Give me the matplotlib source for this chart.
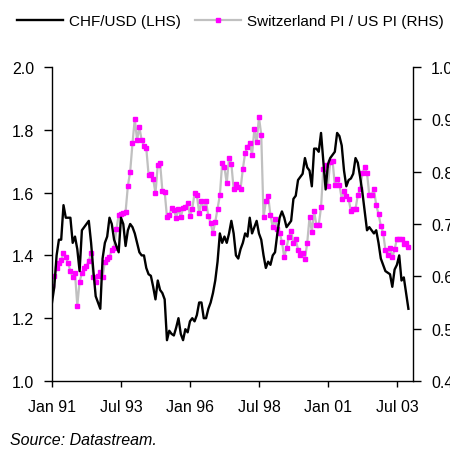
import matplotlib
matplotlib.use("Agg")
import matplotlib.pyplot as plt
import numpy as np

plt.rcParams['font.family'] = ['Liberation Sans', 'DejaVu Sans']

# Monthly data, Jan 1991 - Dec 2003
chf_usd = [
    1.25, 1.30, 1.40, 1.45, 1.45, 1.56, 1.52, 1.52, 1.52, 1.44,
    1.46, 1.42, 1.35, 1.48, 1.49, 1.50, 1.51, 1.44, 1.35, 1.27,
    1.25, 1.23, 1.39, 1.44, 1.46, 1.52, 1.50, 1.45, 1.43, 1.41,
    1.52, 1.50, 1.43, 1.48, 1.50, 1.49, 1.47, 1.44, 1.41, 1.40,
    1.40, 1.36, 1.34, 1.335, 1.30, 1.26, 1.32, 1.29, 1.28, 1.26,
    1.13, 1.16, 1.15, 1.145, 1.17, 1.20, 1.15, 1.13, 1.165, 1.155,
    1.19, 1.20, 1.19, 1.21, 1.25, 1.25, 1.20, 1.20, 1.23, 1.25,
    1.28, 1.32, 1.38, 1.47, 1.44, 1.46, 1.44, 1.47, 1.51, 1.47,
    1.40, 1.39, 1.42, 1.44, 1.47, 1.46, 1.52, 1.47, 1.49, 1.51,
    1.47, 1.45, 1.40, 1.36, 1.38, 1.37, 1.40, 1.41, 1.47, 1.52,
    1.54, 1.52, 1.49, 1.50, 1.51, 1.58, 1.59, 1.64, 1.65, 1.66,
    1.71, 1.68, 1.67, 1.62, 1.74, 1.74, 1.73, 1.79, 1.70, 1.61,
    1.69, 1.71, 1.72, 1.73, 1.79, 1.78, 1.75, 1.67, 1.62, 1.64,
    1.645, 1.66, 1.71, 1.695, 1.65, 1.60, 1.54, 1.48, 1.49, 1.48,
    1.47, 1.48, 1.44, 1.39, 1.37, 1.35, 1.345, 1.34, 1.30, 1.355,
    1.37, 1.40, 1.32, 1.33, 1.28, 1.23,
]

pi_ratio = [
    0.582, 0.600, 0.615, 0.625, 0.631, 0.644, 0.636, 0.625, 0.610, 0.598,
    0.606, 0.544, 0.590, 0.606, 0.615, 0.620, 0.630, 0.644, 0.598, 0.590,
    0.600, 0.609, 0.598, 0.628, 0.633, 0.637, 0.651, 0.655, 0.690, 0.717,
    0.719, 0.721, 0.723, 0.773, 0.800, 0.854, 0.901, 0.860, 0.885, 0.860,
    0.850, 0.845, 0.794, 0.796, 0.786, 0.759, 0.813, 0.817, 0.764, 0.762,
    0.713, 0.717, 0.730, 0.727, 0.712, 0.729, 0.713, 0.730, 0.732, 0.740,
    0.716, 0.729, 0.759, 0.755, 0.721, 0.743, 0.730, 0.743, 0.715, 0.702,
    0.683, 0.704, 0.729, 0.755, 0.816, 0.808, 0.778, 0.827, 0.815, 0.767,
    0.777, 0.770, 0.767, 0.805, 0.836, 0.847, 0.855, 0.832, 0.881, 0.856,
    0.904, 0.871, 0.713, 0.743, 0.754, 0.717, 0.694, 0.710, 0.690, 0.683,
    0.666, 0.636, 0.655, 0.676, 0.686, 0.664, 0.671, 0.651, 0.641, 0.645,
    0.633, 0.664, 0.713, 0.685, 0.724, 0.698, 0.698, 0.732, 0.805, 0.813,
    0.773, 0.819, 0.821, 0.775, 0.786, 0.775, 0.748, 0.764, 0.754, 0.748,
    0.724, 0.729, 0.729, 0.755, 0.767, 0.797, 0.808, 0.797, 0.755, 0.755,
    0.767, 0.736, 0.719, 0.697, 0.683, 0.651, 0.641, 0.655, 0.636, 0.652,
    0.671, 0.671, 0.671, 0.662, 0.664, 0.656,
]

x_tick_pos = [0, 30, 60, 90, 120, 150]
x_tick_labels = ["Jan 91", "Jul 93", "Jan 96", "Jul 98", "Jan 01", "Jul 03"]
left_ticks = [1.0, 1.2, 1.4, 1.6, 1.8, 2.0]
right_ticks = [0.4, 0.5, 0.6, 0.7, 0.8, 0.9, 1.0]

months = np.arange(len(chf_usd))

fig = plt.figure(figsize=(4.5, 4.52), dpi=100)
ax = fig.add_axes([52/450, 1-382/452, (413-52)/450, (382-68)/452])
ax2 = ax.twinx()

l2, = ax2.plot(months, pi_ratio, color='#c0c0c0', lw=1.6, marker='s',
               markersize=3.3, markerfacecolor='#ff00ff', markeredgecolor='#ff00ff',
               zorder=2)
l1, = ax.plot(months, chf_usd, color='black', lw=1.7, zorder=3)
ax.set_zorder(ax2.get_zorder() + 1)
ax.patch.set_visible(False)

ax.set_xlim(0, 157)
ax.set_ylim(1.0, 2.0)
ax2.set_ylim(0.4, 1.0)
ax.set_yticks(left_ticks)
ax.set_yticklabels([f"{v:.1f}" for v in left_ticks])
ax2.set_yticks(right_ticks)
ax2.set_yticklabels([f"{v:.1f}" for v in right_ticks])
ax.set_xticks(x_tick_pos)
ax.set_xticklabels(x_tick_labels)

for a in (ax, ax2):
    a.spines['top'].set_visible(False)
    for s in a.spines.values():
        s.set_linewidth(1.0)
ax.spines['right'].set_visible(False)
ax2.spines['left'].set_visible(False)
ax2.spines['bottom'].set_visible(False)

ax.tick_params(axis='y', direction='out', length=6, width=1, pad=7, labelsize=11.5)
ax.tick_params(axis='x', direction='out', length=4, width=1, pad=9, labelsize=11.5)
ax2.tick_params(axis='y', direction='out', length=6, width=1, pad=7, labelsize=11.5)

fig.legend([l1, l2], ["CHF/USD (LHS)", "Switzerland PI / US PI (RHS)"],
           loc='upper left', bbox_to_anchor=(0.025, 0.98), ncol=2, frameon=False,
           fontsize=11, handlelength=3.0, handletextpad=0.4, columnspacing=0.9,
           borderaxespad=0)

fig.text(10/450, 1-441/452, "Source: Datastream.", style='italic', fontsize=11.5,
         ha='left', va='center')

fig.savefig("out.png", dpi=100)
